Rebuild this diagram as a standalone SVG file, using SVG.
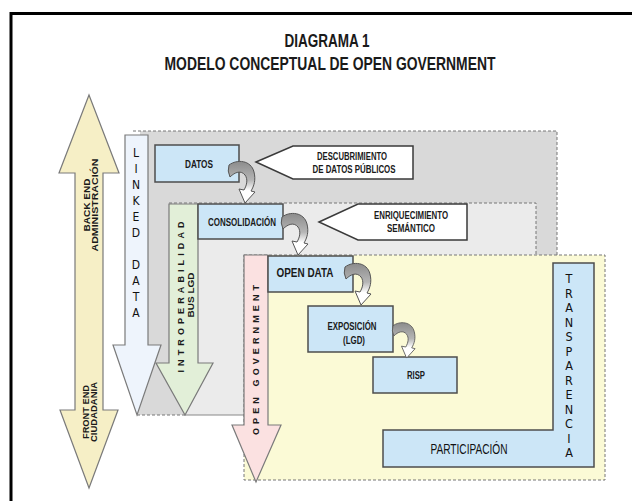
<svg xmlns="http://www.w3.org/2000/svg" width="632" height="501" viewBox="0 0 632 501">
<defs>
<style>
.t{font-family:"Liberation Sans",Arial,sans-serif;fill:#1a1a1a;font-weight:bold}
.lt{font-family:"DejaVu Sans Condensed","Liberation Sans",sans-serif;fill:#222;font-size:12px;text-anchor:middle}
.box{fill:#cce6f7;stroke:#4d4d4d;stroke-width:1.5}
.call{fill:#fff;stroke:#3a3a3a;stroke-width:1.5}
.dash{fill:none;stroke:#777;stroke-width:1;stroke-dasharray:3 2}
.col{stroke:#7a7a7a;stroke-width:1.2}
.mid{text-anchor:middle}
</style>
<linearGradient id="cg" x1="0" y1="0" x2="0" y2="1">
<stop offset="0" stop-color="#8c8c8c"/>
<stop offset="0.45" stop-color="#b5b5b5"/>
<stop offset="0.7" stop-color="#ffffff"/>
<stop offset="1" stop-color="#ffffff"/>
</linearGradient>
<path id="curl" d="M 0,-5 C 8,-11 22,-10 25,2 C 27,10 25,16 22,21 L 26,22 L 16,33 L 10,19 L 15,20 C 18,15 19,9 16,5 C 12,0 6,2 1,7 Q -2,1 0,-5 Z" fill="url(#cg)" stroke="#555" stroke-width="1"/>
</defs>
<rect x="0" y="0" width="632" height="501" fill="#ffffff"/>
<path d="M 11,501 V 13.5 H 632" fill="none" stroke="#000" stroke-width="3"/>

<g id="title">
<text class="t mid" x="327" y="47" font-size="19" textLength="85" lengthAdjust="spacingAndGlyphs">DIAGRAMA 1</text>
<text class="t mid" x="330" y="70" font-size="19" textLength="331" lengthAdjust="spacingAndGlyphs">MODELO CONCEPTUAL DE OPEN GOVERNMENT</text>
</g>

<g id="region-outer">
<polygon points="140,131 557,131 557,415 137,415 161,345 140,345" fill="#d9d9d9"/>
<polyline class="dash" points="133,131 557,131 557,255"/>
<line class="dash" x1="137" y1="415" x2="185" y2="415"/>
</g>
<g id="region-middle">
<polygon points="175,203 536,203 536,415 185,415 213,363 175,363" fill="#ebebeb"/>
<polyline class="dash" points="169,203 536,203 536,255"/>
<line x1="185" y1="415" x2="244" y2="415" stroke="#888" stroke-width="1"/>
</g>
<g id="region-open">
<rect x="244" y="255" width="361" height="225" class="dash" style="fill:#fbfad6"/>
</g>

<g id="frontback">
<polygon points="89,95 119,173 103,173 103,410 118,410 89,488 60,410 75,410 75,173 59,173" fill="#f6efc6" class="col"/>
<text class="t mid" font-size="9" transform="translate(90,205) rotate(-90)" textLength="53" lengthAdjust="spacingAndGlyphs">BACK END</text>
<text class="t mid" font-size="9" transform="translate(98,205) rotate(-90)" textLength="93" lengthAdjust="spacingAndGlyphs">ADMINISTRACIÓN</text>
<text class="t mid" font-size="9" transform="translate(89,412) rotate(-90)" textLength="54" lengthAdjust="spacingAndGlyphs">FRONT END</text>
<text class="t mid" font-size="9" transform="translate(97,412) rotate(-90)" textLength="60" lengthAdjust="spacingAndGlyphs">CIUDADANIA</text>
</g>

<g id="linked-data">
<polygon points="125,135 148,135 148,345 161,345 137,415 113,345 125,345" fill="#eef4fc" class="col"/>
<text class="lt" style="fill:#111"><tspan x="136" y="157">L</tspan><tspan x="136" y="173">I</tspan><tspan x="136" y="189">N</tspan><tspan x="136" y="205">K</tspan><tspan x="136" y="221">E</tspan><tspan x="136" y="237">D</tspan><tspan x="136" y="269">D</tspan><tspan x="136" y="285">A</tspan><tspan x="136" y="301">T</tspan><tspan x="136" y="317">A</tspan></text>
</g>

<g id="interoperabilidad">
<polygon points="169,204 198,204 198,363 213,363 185,415 156,363 169,363" fill="#e2efd8" class="col"/>
<text class="t mid" font-size="9" transform="translate(184,297) rotate(-90)" textLength="151">INTROPERABILIDAD</text>
<text class="t mid" font-size="9" transform="translate(194,295) rotate(-90)" textLength="45" lengthAdjust="spacingAndGlyphs">BUS LGD</text>
</g>

<g id="open-government">
<polygon points="244,255 268,255 268,425 281,425 256,482 232,425 244,425" fill="#fbe1e1" class="col"/>
<text class="t mid" font-size="9" transform="translate(259,360) rotate(-90)" textLength="150">OPEN  GOVERNMENT</text>
</g>

<g id="datos">
<rect class="box" x="155" y="145" width="84" height="37"/>
<text class="t mid" x="199" y="168" font-size="11" textLength="28" lengthAdjust="spacingAndGlyphs">DATOS</text>
</g>
<g id="descubrimiento">
<polygon class="call" points="256,162 293,146 413,146 413,179 293,179"/>
<text class="t mid" x="352" y="160" font-size="10" textLength="70" lengthAdjust="spacingAndGlyphs">DESCUBRIMIENTO</text>
<text class="t mid" x="354" y="173" font-size="10" textLength="83" lengthAdjust="spacingAndGlyphs">DE DATOS PÚBLICOS</text>
</g>
<g id="consolidacion">
<rect class="box" x="198" y="204" width="85" height="35"/>
<text class="t mid" x="242" y="226" font-size="10.5" textLength="68" lengthAdjust="spacingAndGlyphs">CONSOLIDACIÓN</text>
</g>
<g id="enriquecimiento">
<polygon class="call" points="319,222 358,204 467,204 467,240 358,240"/>
<text class="t mid" x="411" y="219" font-size="10" textLength="74" lengthAdjust="spacingAndGlyphs">ENRIQUECIMIENTO</text>
<text class="t mid" x="411" y="232" font-size="10" textLength="48" lengthAdjust="spacingAndGlyphs">SEMÁNTICO</text>
</g>
<g id="open-data">
<rect class="box" x="268" y="256" width="85" height="36"/>
<text class="t mid" x="305" y="277" font-size="13" textLength="57" lengthAdjust="spacingAndGlyphs">OPEN DATA</text>
</g>
<g id="exposicion">
<rect class="box" x="308" y="306" width="85" height="46"/>
<text class="t mid" x="352" y="330" font-size="10" textLength="49" lengthAdjust="spacingAndGlyphs">EXPOSICIÓN</text>
<text class="t mid" x="354" y="344" font-size="10" textLength="22" lengthAdjust="spacingAndGlyphs">(LGD)</text>
</g>
<g id="risp">
<rect class="box" x="373" y="357" width="84" height="36"/>
<text class="t mid" x="416" y="379" font-size="10" textLength="18" lengthAdjust="spacingAndGlyphs">RISP</text>
</g>
<g id="transparencia-participacion">
<polygon class="box" points="553,263 594,263 594,467 383,467 383,430 553,430"/>
<text class="t mid" x="469" y="454" font-size="14" textLength="77" lengthAdjust="spacingAndGlyphs" style="font-weight:normal;fill:#111">PARTICIPACIÓN</text>
<text class="lt" style="font-size:12.5px;fill:#111"><tspan x="569" y="283">T</tspan><tspan x="569" y="297.5">R</tspan><tspan x="569" y="312">A</tspan><tspan x="569" y="326.5">N</tspan><tspan x="569" y="341">S</tspan><tspan x="569" y="355.5">P</tspan><tspan x="569" y="370">A</tspan><tspan x="569" y="384.5">R</tspan><tspan x="569" y="399">E</tspan><tspan x="569" y="413.5">N</tspan><tspan x="569" y="428">C</tspan><tspan x="569" y="442.5">I</tspan><tspan x="569" y="457">A</tspan></text>
</g>

<g id="connectors">
<use href="#curl" transform="translate(229,170)"/>
<use href="#curl" transform="translate(282,222)"/>
<use href="#curl" transform="translate(345,272)"/>
<use href="#curl" transform="translate(393,330) scale(0.85)"/>
</g>
</svg>
